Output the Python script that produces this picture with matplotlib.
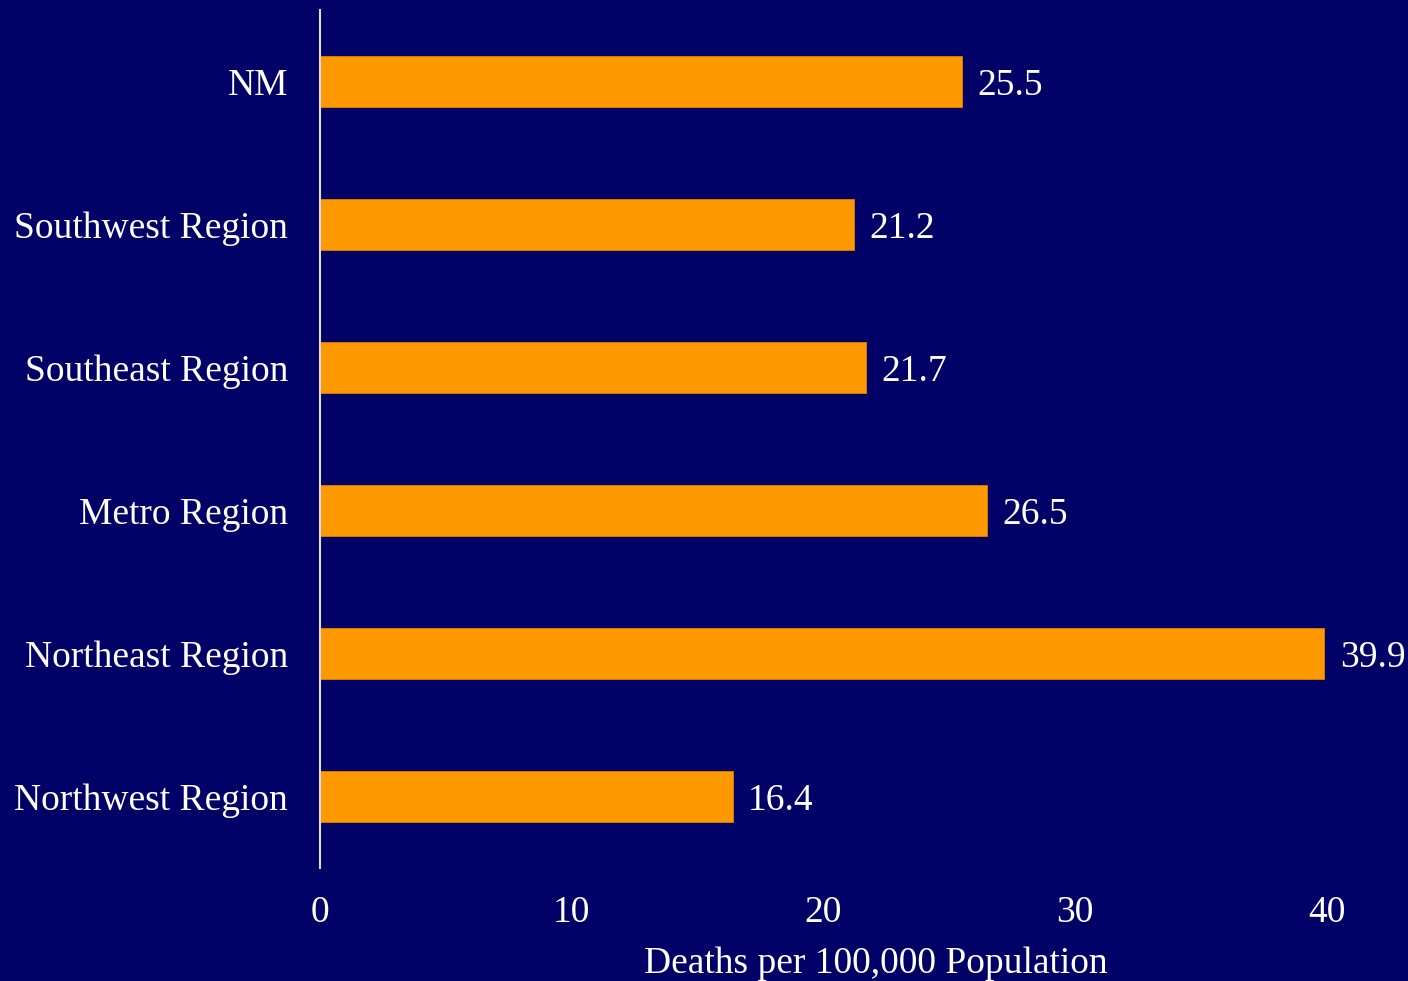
import numpy as np
import matplotlib.pyplot as plt

# data
regions = ['NM', 'Southwest Region', 'Southeast Region', 'Metro Region',
           'Northeast Region', 'Northwest Region']
rates = [25.5, 21.2, 21.7, 26.5, 39.9, 16.4]
xticks = [0, 10, 20, 30, 40]

bg = '#000066'
bar_color = '#FF9900'
fs = 27

plt.rcParams['font.family'] = ['Liberation Serif', 'DejaVu Serif']

fig = plt.figure(figsize=(14.08, 9.81), dpi=100, facecolor=bg)
ax = fig.add_axes([320 / 1408, 113 / 981, 1007 / 1408, 858 / 981], facecolor=bg)

y = np.arange(len(regions))
ax.barh(y, rates, height=0.35, color=bar_color, edgecolor='#E08000', linewidth=0.6)

for yi, v in zip(y, rates):
    ax.annotate(f'{v}', (v, yi), xytext=(11, -3), textcoords='offset points',
                va='center', ha='left', color='white', fontsize=fs)

ax.set_xlim(0, 40)
ax.set_ylim(5.5, -0.5)
ax.set_yticks(y)
ax.set_yticklabels(regions)
ax.set_xticks(xticks)
ax.tick_params(axis='y', length=0, pad=23, labelsize=fs, labelcolor='white')
ax.tick_params(axis='x', length=0, pad=20, labelsize=fs, labelcolor='white')

for s in ['top', 'right', 'bottom']:
    ax.spines[s].set_visible(False)
ax.spines['left'].set_color('#DDDDDD')
ax.spines['left'].set_linewidth(1.5)

ax.set_xlabel('Deaths per 100,000 Population', color='white', fontsize=fs)
ax.xaxis.set_label_coords(0.552, -0.092)

fig.savefig('out.png', dpi=100, facecolor=bg)
